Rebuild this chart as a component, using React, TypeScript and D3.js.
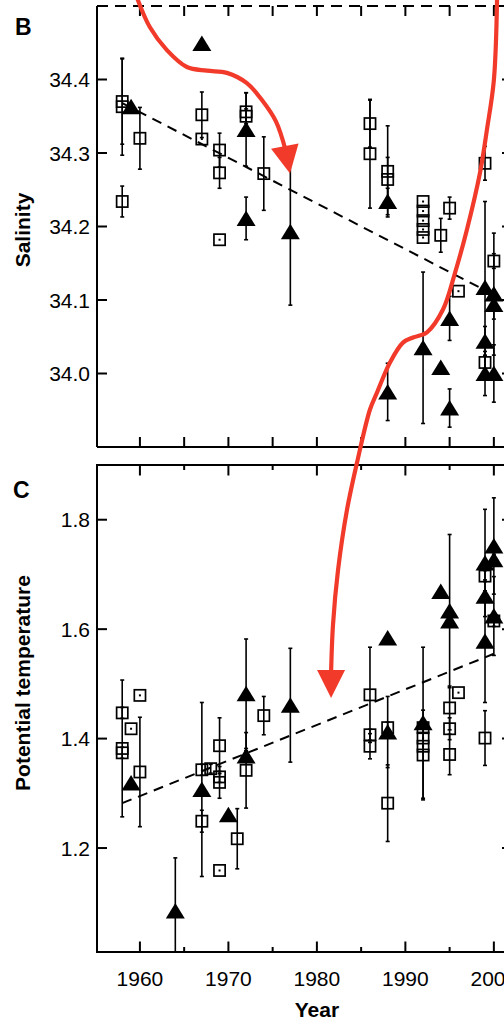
import React from 'react';
import * as d3 from 'd3';

type Obs = [number, number, number]; // year, value, half error

const yearTicks = [1960, 1965, 1970, 1975, 1980, 1985, 1990, 1995, 2000];
const yearLabels = [1960, 1970, 1980, 1990, 2000];
const salinityTicks = [34.0, 34.1, 34.2, 34.3, 34.4];
const temperatureTicks = [1.2, 1.4, 1.6, 1.8];

const salinitySquares: Obs[] = [
  [1958, 34.370, 0.058], [1958, 34.363, 0.066], [1958, 34.234, 0.021],
  [1960, 34.320, 0.042],
  [1967, 34.352, 0.031], [1967, 34.319, 0.004],
  [1969, 34.304, 0.023], [1969, 34.273, 0.021], [1969, 34.182, 0.003],
  [1972, 34.356, 0.026], [1972, 34.350, 0.010],
  [1974, 34.272, 0.050],
  [1986, 34.340, 0.032], [1986, 34.299, 0.074],
  [1988, 34.275, 0.062], [1988, 34.264, 0.030],
  [1992, 34.234, 0.004], [1992, 34.221, 0.004], [1992, 34.208, 0.004], [1992, 34.196, 0.004], [1992, 34.185, 0.004],
  [1994, 34.188, 0.023],
  [1995, 34.225, 0.015],
  [1996, 34.112, 0.003],
  [1999, 34.286, 0.023], [1999, 34.015, 0.010],
  [2000, 34.153, 0.010],
];

const salinityTriangles: Obs[] = [
  [1959, 34.363, 0.005],
  [1967, 34.449, 0.004],
  [1972, 34.332, 0.050], [1972, 34.211, 0.029],
  [1977, 34.193, 0.100],
  [1988, 34.234, 0.018], [1988, 33.975, 0.039],
  [1992, 34.035, 0.103],
  [1994, 34.008, 0.004],
  [1995, 34.075, 0.030], [1995, 33.953, 0.026],
  [1999, 34.117, 0.117], [1999, 34.044, 0.020], [1999, 34.000, 0.030],
  [2000, 34.108, 0.083], [2000, 34.094, 0.020], [2000, 34.000, 0.039],
];

const salinityTrend: [number, number][] = [[1958, 34.368], [2000, 34.107]];

const temperatureSquares: Obs[] = [
  [1958, 1.447, 0.010], [1958, 1.382, 0.125], [1958, 1.374, 0.010],
  [1959, 1.418, 0.005],
  [1960, 1.479, 0.005], [1960, 1.339, 0.100],
  [1967, 1.343, 0.010], [1967, 1.249, 0.020],
  [1968, 1.345, 0.008],
  [1969, 1.387, 0.051], [1969, 1.330, 0.010], [1969, 1.320, 0.029], [1969, 1.159, 0.004],
  [1971, 1.217, 0.055],
  [1972, 1.342, 0.069],
  [1974, 1.442, 0.035],
  [1986, 1.480, 0.087], [1986, 1.407, 0.010], [1986, 1.386, 0.023],
  [1988, 1.420, 0.010], [1988, 1.282, 0.070],
  [1992, 1.420, 0.005], [1992, 1.401, 0.005], [1992, 1.386, 0.005], [1992, 1.370, 0.082],
  [1995, 1.456, 0.040], [1995, 1.418, 0.020], [1995, 1.371, 0.037],
  [1996, 1.484, 0.005],
  [1999, 1.697, 0.010], [1999, 1.401, 0.050],
  [2000, 1.615, 0.010],
];

const temperatureTriangles: Obs[] = [
  [1959, 1.319, 0.005],
  [1964, 1.085, 0.097],
  [1967, 1.307, 0.159],
  [1970, 1.261, 0.005],
  [1972, 1.482, 0.100], [1972, 1.368, 0.010],
  [1977, 1.461, 0.104],
  [1988, 1.584, 0.005], [1988, 1.412, 0.065],
  [1992, 1.429, 0.138],
  [1994, 1.669, 0.005],
  [1995, 1.633, 0.140], [1995, 1.615, 0.010],
  [1999, 1.721, 0.098], [1999, 1.660, 0.010], [1999, 1.578, 0.112],
  [2000, 1.752, 0.088], [2000, 1.727, 0.010], [2000, 1.624, 0.072],
];

const temperatureTrend: [number, number][] = [[1958, 1.282], [2000, 1.555]];

// Red annotation arrows, in (year, value) of the panel they cross
const arrowOneTrack: [number, number][] = [
  [1959.77, 34.508], [1961.13, 34.471], [1963.05, 34.440], [1965.31, 34.417],
  [1967.57, 34.412], [1969.83, 34.409], [1972.09, 34.395], [1973.79, 34.372],
  [1975.37, 34.343], [1976.38, 34.309],
];
const arrowOneTip: [number, number] = [1976.96, 34.272];

const arrowTwoUpperTrack: [number, number][] = [
  [2000.36, 34.508], [2000.0, 34.399], [1999.22, 34.332], [1998.43, 34.273],
  [1996.96, 34.196], [1995.61, 34.137], [1994.25, 34.087], [1992.44, 34.056],
  [1990.86, 34.049], [1989.73, 34.042], [1988.26, 34.015], [1986.79, 33.974],
  [1986.0, 33.951],
];
const arrowTwoLowerTrack: [number, number][] = [
  [1984.53, 1.904], [1983.40, 1.818], [1982.39, 1.708], [1981.82, 1.608], [1981.60, 1.529],
];
const arrowTwoTip: [number, number] = [1981.60, 1.474];

const W = 504;
const H = 1020;
const FONT = '"Liberation Sans", Arial, Helvetica, sans-serif';
const RED = '#f23a2b';

const xScale = d3.scaleLinear().domain([1955.15, 2002.05]).range([97, 512]);
const salScale = d3.scaleLinear().domain([33.9, 34.5]).range([447, 6]);
const tempScale = d3.scaleLinear().domain([1.01, 1.9]).range([952, 465]);

const trianglePath = 'M0,-8L9.5,7.5L-9.5,7.5Z';

function Marks({ squares, triangles, y, trend }: {
  squares: Obs[]; triangles: Obs[]; y: d3.ScaleLinear<number, number>; trend: [number, number][];
}) {
  const [lo, hi] = y.domain();
  const clamp = (v: number) => Math.max(lo, Math.min(hi, v));
  const all = [...squares, ...triangles];
  const line = d3.line<[number, number]>().x(d => xScale(d[0])).y(d => y(d[1]));
  return (
    <g>
      <path d={line(trend) || ''} fill="none" stroke="#000" strokeWidth={2} strokeDasharray="10,7" />
      {all.map((d, i) => {
        const cx = xScale(d[0]);
        const cy = y(d[1]);
        const y1 = y(clamp(d[1] + d[2]));
        const y2 = y(clamp(d[1] - d[2]));
        if (y2 - y1 < 8) {
          return <rect key={'e' + i} x={cx - 1} y={cy - 1} width={2} height={2} fill="#000" />;
        }
        return (
          <g key={'e' + i} stroke="#000" strokeWidth={1.6}>
            <line x1={cx} x2={cx} y1={y1} y2={y2} />
            <line x1={cx - 2} x2={cx + 2} y1={y1} y2={y1} />
            {d[1] - d[2] >= lo && <line x1={cx - 2} x2={cx + 2} y1={y2} y2={y2} />}
          </g>
        );
      })}
      {squares.map((d, i) => (
        <rect key={'s' + i} x={xScale(d[0]) - 5.6} y={y(d[1]) - 5.6} width={11.2} height={11.2}
          fill="none" stroke="#000" strokeWidth={1.7} />
      ))}
      {triangles.map((d, i) => (
        <path key={'t' + i} d={trianglePath} transform={`translate(${xScale(d[0])},${y(d[1])})`} fill="#000" />
      ))}
    </g>
  );
}

function Arrow({ pts, tip }: { pts: [number, number][]; tip: [number, number] }) {
  const base = pts[pts.length - 1];
  const dx = tip[0] - base[0];
  const dy = tip[1] - base[1];
  const len = Math.hypot(dx, dy) || 1;
  const ux = dx / len, uy = dy / len;
  const headLen = 28, half = 14;
  const bx = tip[0] - ux * headLen, by = tip[1] - uy * headLen;
  const shaft = [...pts.slice(0, -1), [bx + ux * 4, by + uy * 4] as [number, number]];
  const line = d3.line<[number, number]>().curve(d3.curveCatmullRom.alpha(0.5));
  const head = `M${tip[0]},${tip[1]}L${bx - uy * half},${by + ux * half}L${bx + uy * half},${by - ux * half}Z`;
  return (
    <g>
      <path d={line(shaft) || ''} fill="none" stroke={RED} strokeWidth={4.2} strokeLinecap="round" />
      <path d={head} fill={RED} />
    </g>
  );
}

export default function App() {
  const xL = xScale.range()[0];
  const xR = xScale.range()[1];
  const bTop = salScale.range()[1];
  const bBot = salScale.range()[0];
  const cTop = tempScale.range()[1];
  const cBot = tempScale.range()[0];

  const arrowOnePx: [number, number][] = arrowOneTrack.map(d => [xScale(d[0]), salScale(d[1])]);
  const arrowOneTipPx: [number, number] = [xScale(arrowOneTip[0]), salScale(arrowOneTip[1])];
  const arrowTwoPx: [number, number][] = [
    ...arrowTwoUpperTrack.map(d => [xScale(d[0]), salScale(d[1])] as [number, number]),
    ...arrowTwoLowerTrack.map(d => [xScale(d[0]), tempScale(d[1])] as [number, number]),
  ];
  const arrowTwoTipPx: [number, number] = [xScale(arrowTwoTip[0]), tempScale(arrowTwoTip[1])];

  return (
    <svg width={W} height={H} style={{ position: 'absolute', left: 0, top: 0, background: '#fff' }}
      fontFamily={FONT}>
      <rect x={0} y={0} width={W} height={H} fill="#fff" />

      {/* Panel B */}
      <Marks squares={salinitySquares} triangles={salinityTriangles} y={salScale} trend={salinityTrend} />
      <g stroke="#000" strokeWidth={2} fill="none">
        <line x1={xL} x2={xL} y1={bTop} y2={bBot} />
        <line x1={xL} x2={xR} y1={bBot} y2={bBot} />
        <line x1={xR} x2={xR} y1={bTop} y2={bBot} />
        <line x1={xL} x2={xR} y1={bTop} y2={bTop} strokeDasharray="11,7" />
        {yearTicks.map(t => (
          <g key={'bt' + t}>
            <line x1={xScale(t)} x2={xScale(t)} y1={bTop} y2={bTop + 10} />
            <line x1={xScale(t)} x2={xScale(t)} y1={bBot} y2={bBot - 10} />
          </g>
        ))}
        {salinityTicks.map(t => (
          <g key={'by' + t}>
            <line x1={xL} x2={xL + 10} y1={salScale(t)} y2={salScale(t)} />
            <line x1={xR} x2={xR - 10} y1={salScale(t)} y2={salScale(t)} />
          </g>
        ))}
      </g>
      {salinityTicks.map(t => (
        <text key={'bl' + t} x={90} y={salScale(t)} dy="0.36em" textAnchor="end" fontSize={21} fill="#000">
          {t.toFixed(1)}
        </text>
      ))}
      <text x={15} y={35} fontSize={23} fontWeight="bold" fill="#000">B</text>
      <text transform="translate(30,230) rotate(-90)" textAnchor="middle" fontSize={21} fontWeight="bold" fill="#000">
        Salinity
      </text>

      {/* Panel C */}
      <Marks squares={temperatureSquares} triangles={temperatureTriangles} y={tempScale} trend={temperatureTrend} />
      <g stroke="#000" strokeWidth={2} fill="none">
        <rect x={xL} y={cTop} width={xR - xL} height={cBot - cTop} />
        {yearTicks.map(t => {
          const len = t % 10 === 0 ? 10.5 : 5;
          return (
            <g key={'ct' + t}>
              <line x1={xScale(t)} x2={xScale(t)} y1={cTop} y2={cTop + len} />
              <line x1={xScale(t)} x2={xScale(t)} y1={cBot} y2={cBot - len} />
            </g>
          );
        })}
        {temperatureTicks.map(t => (
          <g key={'cy' + t}>
            <line x1={xL} x2={xL + 10} y1={tempScale(t)} y2={tempScale(t)} />
            <line x1={xR} x2={xR - 10} y1={tempScale(t)} y2={tempScale(t)} />
          </g>
        ))}
      </g>
      {temperatureTicks.map(t => (
        <text key={'cl' + t} x={90} y={tempScale(t)} dy="0.36em" textAnchor="end" fontSize={21} fill="#000">
          {t.toFixed(1)}
        </text>
      ))}
      {yearLabels.map(t => (
        <text key={'xl' + t} x={xScale(t)} y={986} textAnchor="middle" fontSize={21} fill="#000">{t}</text>
      ))}
      <text x={13} y={498} fontSize={23} fontWeight="bold" fill="#000">C</text>
      <text transform="translate(30,683) rotate(-90)" textAnchor="middle" fontSize={21} fontWeight="bold" fill="#000">
        Potential temperature
      </text>
      <text x={xScale(1980)} y={1017} textAnchor="middle" fontSize={21} fontWeight="bold" fill="#000">Year</text>

      {/* Red annotation arrows */}
      <Arrow pts={arrowOnePx} tip={arrowOneTipPx} />
      <Arrow pts={arrowTwoPx} tip={arrowTwoTipPx} />
    </svg>
  );
}
